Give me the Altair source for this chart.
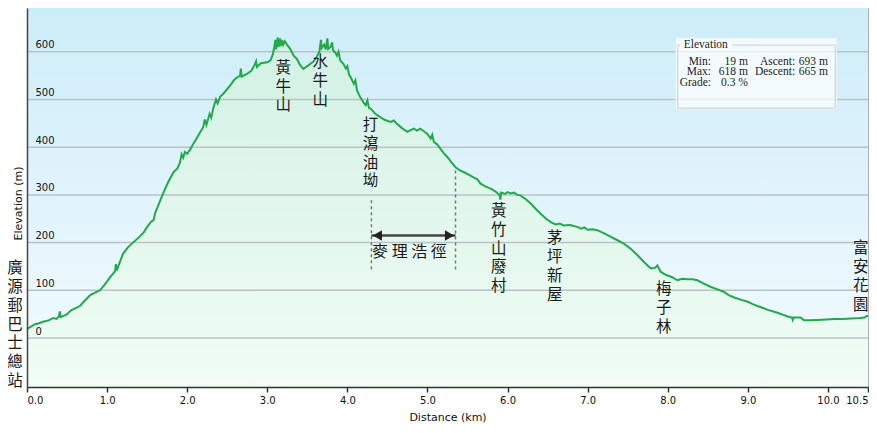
import altair as alt
import pandas as pd

# ---------------- data ----------------
dist_km = [0.00, 0.05, 0.10, 0.15, 0.20, 0.27, 0.33, 0.37, 0.40, 0.41, 0.42, 0.45, 0.50, 0.55, 0.60,
           0.66, 0.72, 0.79, 0.85, 0.91, 0.97, 1.04, 1.08, 1.10, 1.11, 1.12, 1.15, 1.20, 1.26, 1.33,
           1.41, 1.46, 1.50, 1.54, 1.56, 1.58, 1.60, 1.65, 1.70, 1.76, 1.83, 1.88, 1.91, 1.93, 1.95,
           1.97, 2.00, 2.04, 2.08, 2.14, 2.20, 2.22, 2.24, 2.28, 2.30, 2.33, 2.36, 2.38, 2.41, 2.45,
           2.50, 2.55, 2.58, 2.62, 2.66, 2.67, 2.68, 2.75, 2.80, 2.84, 2.86, 2.87, 2.92, 3.00, 3.04,
           3.07, 3.09, 3.10, 3.11, 3.13, 3.14, 3.16, 3.17, 3.19, 3.20, 3.22, 3.25, 3.29, 3.33, 3.37,
           3.41, 3.45, 3.50, 3.54, 3.58, 3.62, 3.65, 3.67, 3.68, 3.71, 3.73, 3.75, 3.76, 3.79, 3.81,
           3.82, 3.85, 3.87, 3.89, 3.91, 3.95, 3.98, 4.00, 4.02, 4.04, 4.08, 4.10, 4.12, 4.16, 4.20,
           4.23, 4.25, 4.27, 4.29, 4.35, 4.41, 4.47, 4.54, 4.58, 4.62, 4.68, 4.75, 4.79, 4.83, 4.87,
           4.91, 4.95, 5.00, 5.04, 5.06, 5.08, 5.12, 5.16, 5.20, 5.25, 5.30, 5.35, 5.40, 5.45, 5.52,
           5.58, 5.62, 5.66, 5.72, 5.79, 5.85, 5.90, 5.91, 5.92, 5.97, 6.00, 6.04, 6.08, 6.12, 6.16,
           6.22, 6.29, 6.35, 6.41, 6.48, 6.54, 6.60, 6.65, 6.70, 6.78, 6.87, 6.92, 6.96, 7.00, 7.06,
           7.12, 7.20, 7.29, 7.36, 7.45, 7.53, 7.62, 7.70, 7.76, 7.79, 7.84, 7.87, 7.91, 7.98, 8.05,
           8.12, 8.18, 8.25, 8.31, 8.37, 8.45, 8.54, 8.62, 8.70, 8.76, 8.83, 8.92, 9.00, 9.06, 9.12,
           9.19, 9.25, 9.31, 9.37, 9.45, 9.50, 9.55, 9.56, 9.57, 9.66, 9.70, 9.78, 9.87, 9.98, 10.08,
           10.18, 10.29, 10.40, 10.46, 10.48, 10.50]
elev_m = [19, 24, 29, 31, 34, 37, 42, 40, 46, 56, 44, 46, 50, 58, 62,
          67, 78, 90, 95, 100, 112, 128, 136, 140, 155, 142, 155, 177, 190, 201,
          213, 222, 233, 242, 245, 247, 262, 283, 303, 326, 348, 356, 368, 385, 378,
          390, 386, 396, 408, 425, 442, 458, 447, 470, 462, 484, 500, 492, 505, 512,
          522, 532, 540, 546, 550, 565, 548, 554, 560, 572, 580, 568, 576, 578, 582,
          595, 612, 625, 605, 630, 610, 628, 612, 624, 615, 622, 614, 605, 592, 585,
          572, 564, 570, 575, 580, 590, 600, 625, 608, 615, 605, 628, 606, 610, 620,
          604, 598, 592, 600, 582, 575, 565, 570, 552, 547, 533, 540, 519, 505, 494,
          488, 498, 482, 481, 470, 463, 457, 453, 456, 449, 440, 432, 436, 439, 435,
          439, 434, 428, 418, 426, 411, 406, 397, 388, 379, 368, 358, 352, 348, 342,
          336, 333, 324, 318, 313, 307, 300, 290, 305, 302, 306, 303, 305, 300, 299,
          292, 282, 271, 261, 250, 243, 238, 240, 236, 237, 233, 229, 232, 227, 228,
          226, 220, 212, 206, 198, 188, 174, 160, 150, 146, 147, 152, 139, 132, 128,
          121, 124, 123, 123, 121, 114, 107, 102, 97, 90, 85, 80, 76, 71, 67,
          63, 59, 56, 53, 48, 45, 43, 38, 43, 43, 37, 37, 38, 39, 40,
          40, 41, 42, 43, 46, 46]

x_ticks = [0, 1, 2, 3, 4, 5, 6, 7, 8, 9, 10, 10.5]
y_ticks = [0, 100, 200, 300, 400, 500, 600]

X_MIN, X_MAX = 0.0, 10.5
Y_MIN, Y_MAX = -102.7, 691.8

# place names (vertical text), position of the top of each label
place_names = ["黃牛山", "水牛山", "打瀉油坳", "黃竹山廢村", "茅坪新屋", "梅子林", "富安花園", "廣源郵巴士總站"]
place_km = [3.20, 3.66, 4.29, 5.89, 6.59, 7.95, 10.41, -0.15]
place_top_m = [581, 593, 461, 281, 224, 117, 203, 161]

# MacLehose Trail section marker
trail_label = "麥 理 浩 徑"
trail_km = [4.30, 5.35]
trail_guide_top_m = [289, 351]
trail_guide_bottom_m = [144, 138]
trail_arrow_m = 215
trail_label_m = 180

# statistics box
stats_title = "Elevation"
stats_labels = ["Min:", "Max:", "Grade:"]
stats_values = ["19 m", "618 m", "0.3 %"]
stats_labels2 = ["Ascent:", "Descent:"]
stats_values2 = ["693 m", "665 m"]
stats_row_m = [578.6, 557.7, 535.6]
stats_col_km = [8.54, 9.0, 9.59, 10.0]
stats_box_km = [8.10, 10.11]
stats_box_m = [480, 629]
stats_frame_km = [8.125, 10.09]
stats_frame_m = [482, 614]

LINE_COLOR = "#22a94b"
FONT = "DejaVu Sans"
CJK = "Noto Sans CJK TC"

# ---------------- shared encodings ----------------
x_axis = alt.Axis(values=x_ticks, format=".1f", title="Distance (km)", grid=False,
                  domainColor="#333333", domainWidth=1.5, tickColor="#333333", tickWidth=1.5,
                  tickSize=5, labelFont=FONT, labelFontSize=10, labelColor="#111111",
                  labelPadding=3, titleFont=FONT, titleFontSize=11, titleFontWeight="normal",
                  titleColor="#111111", titlePadding=6, zindex=1)
y_axis = alt.Axis(values=y_ticks, title="Elevation (m)", grid=False, ticks=False, tickSize=0,
                  labelAlign="left", labelBaseline="bottom", labelPadding=-8, labelOffset=-2,
                  labelFlush=False, domainColor="#444444", domainWidth=1.5, labelFont=FONT,
                  labelFontSize=10, labelColor="#111111", titleFont=FONT, titleFontSize=11,
                  titleFontWeight="normal", titleColor="#111111", titleX=-9, titleY=195,
                  titleAngle=270, titleAlign="center", titleBaseline="middle", zindex=1)
xs = alt.Scale(domain=[X_MIN, X_MAX], nice=False, zero=False)
ys = alt.Scale(domain=[Y_MIN, Y_MAX], nice=False, zero=False)


def X(field="km"):
    return alt.X(f"{field}:Q", scale=xs, axis=x_axis)


def Y(field="m"):
    return alt.Y(f"{field}:Q", scale=ys, axis=y_axis)


profile = pd.DataFrame({"km": dist_km, "m": elev_m})

# background gradient of plot area
bg = alt.Chart(pd.DataFrame({"km": [X_MIN], "km2": [X_MAX], "m": [Y_MIN], "m2": [Y_MAX]})).mark_rect(
    color=alt.Gradient(gradient="linear", x1=0, x2=0, y1=0, y2=1,
                       stops=[alt.GradientStop(color="#cdedf9", offset=0),
                              alt.GradientStop(color="#f4fbfe", offset=1)])
).encode(x=X(), x2="km2:Q", y=Y(), y2="m2:Q")

area = alt.Chart(profile).mark_area(
    color=alt.Gradient(gradient="linear", x1=0, x2=0, y1=0, y2=1,
                       stops=[alt.GradientStop(color="#d2f1e4", offset=0),
                              alt.GradientStop(color="#f1fdf5", offset=1)])
).encode(x=X(), y=Y(), y2=alt.datum(Y_MIN))

grid = alt.Chart(pd.DataFrame({"m": y_ticks})).mark_rule(
    color="#b9c2c4", strokeWidth=1.5
).encode(y=Y())

line = alt.Chart(profile).mark_line(color=LINE_COLOR, strokeWidth=2).encode(x=X(), y=Y())

places = alt.Chart(pd.DataFrame({
    "km": place_km, "m": place_top_m,
    "t": ["\n".join(list(n)) for n in place_names]})).mark_text(
    font=CJK, fontSize=15.5, lineBreak="\n", lineHeight=18.8, align="center", baseline="top",
    color="#1a1a1a"
).encode(x=X(), y=Y(), text="t:N")

guides = alt.Chart(pd.DataFrame({"km": trail_km, "m": trail_guide_top_m,
                                 "m2": trail_guide_bottom_m})).mark_rule(
    color="#777777", strokeWidth=1.5, strokeDash=[3, 3]
).encode(x=X(), y=Y(), y2="m2:Q")

arrow = alt.Chart(pd.DataFrame({"km": [trail_km[0]], "km2": [trail_km[1]],
                                "m": [trail_arrow_m]})).mark_rule(
    color="#444444", strokeWidth=2.5
).encode(x=X(), x2="km2:Q", y=Y())

heads = alt.Chart(pd.DataFrame({"km": [trail_km[0] + 0.075, trail_km[1] - 0.075],
                                "m": [trail_arrow_m, trail_arrow_m],
                                "s": ["triangle-left", "triangle-right"]})).mark_point(
    filled=True, size=110, color="#222222", opacity=1
).encode(x=X(), y=Y(), shape=alt.Shape("s:N", scale=None, legend=None))

trail_text = alt.Chart(pd.DataFrame({"km": [sum(trail_km) / 2 - 0.05], "m": [trail_label_m],
                                     "t": [trail_label]})).mark_text(
    font=CJK, fontSize=16, align="center", baseline="middle", color="#1a1a1a"
).encode(x=X(), y=Y(), text="t:N")

box = alt.Chart(pd.DataFrame({"km": [stats_box_km[0]], "km2": [stats_box_km[1]],
                              "m": [stats_box_m[0]], "m2": [stats_box_m[1]]})).mark_rect(
    fill="white", fillOpacity=0.72, stroke="#e6eeee", strokeWidth=1
).encode(x=X(), x2="km2:Q", y=Y(), y2="m2:Q")

frame = alt.Chart(pd.DataFrame({"km": [stats_frame_km[0]], "km2": [stats_frame_km[1]],
                                "m": [stats_frame_m[0]], "m2": [stats_frame_m[1]]})).mark_rect(
    fill="white", fillOpacity=0.0, stroke="#c9cfd0", strokeWidth=1
).encode(x=X(), x2="km2:Q", y=Y(), y2="m2:Q")

frame_gap = alt.Chart(pd.DataFrame({"km": [8.16], "km2": [8.80], "m": [608], "m2": [620]})).mark_rect(
    fill="#fbfdfe", opacity=1
).encode(x=X(), x2="km2:Q", y=Y(), y2="m2:Q")

serif = "Liberation Serif"
stats_title_t = alt.Chart(pd.DataFrame({"km": [8.20], "m": [614], "t": [stats_title]})).mark_text(
    font=serif, fontSize=11.5, align="left", baseline="middle", color="#222222"
).encode(x=X(), y=Y(), text="t:N")

rows = []
for i, lab in enumerate(stats_labels):
    rows.append({"km": stats_col_km[0], "m": stats_row_m[i], "t": lab})
    rows.append({"km": stats_col_km[1], "m": stats_row_m[i], "t": stats_values[i]})
for i, lab in enumerate(stats_labels2):
    rows.append({"km": stats_col_km[2], "m": stats_row_m[i], "t": lab})
    rows.append({"km": stats_col_km[3], "m": stats_row_m[i], "t": stats_values2[i]})
stats_text = alt.Chart(pd.DataFrame(rows)).mark_text(
    font=serif, fontSize=11.5, align="right", baseline="middle", color="#222222"
).encode(x=X(), y=Y(), text="t:N")

chart = alt.layer(
    bg, area, grid, line, guides, arrow, heads, trail_text, places,
    box, frame, frame_gap, stats_title_t, stats_text
).properties(
    width=841, height=379,
    autosize=alt.AutoSizeParams(type="none"),
    padding={"left": 19, "top": 0, "right": 1, "bottom": 40},
    background="white"
).configure_view(stroke="#a9b0b2", strokeWidth=1)

chart.save("out.html", embed_options={"renderer": "svg", "actions": False})
